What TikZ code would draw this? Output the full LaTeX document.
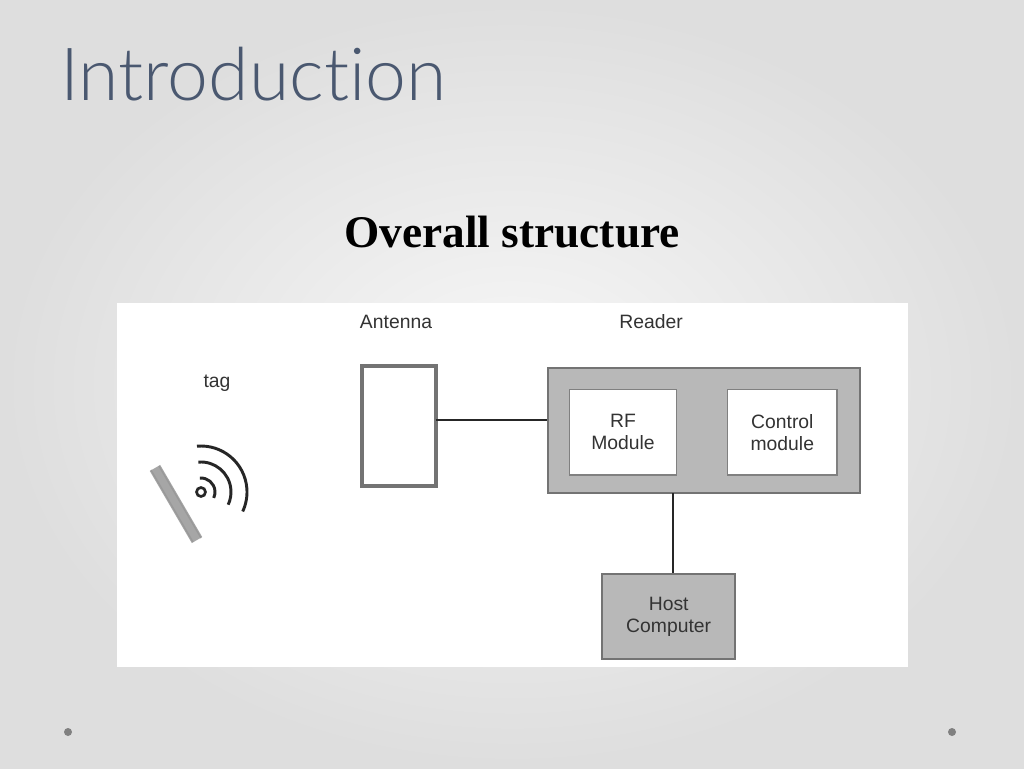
\documentclass[tikz,border=0pt]{standalone}
\usepackage{fontspec}
\setmainfont{Liberation Sans}
\newfontfamily\titlefont[Ligatures={NoCommon}]{Lato Light}
\newfontfamily\serifb{Liberation Serif}
\definecolor{titleblue}{HTML}{4A5870}
\begin{document}
\begin{tikzpicture}[x=0.75pt,y=-0.75pt,
  lbl/.style={font=\fontsize{14.5}{16.5}\selectfont,text=black!80,align=center},
  gbox/.style={draw=black!55,line width=1.5pt,fill=black!28},
  wbox/.style={draw=black!50,line width=1pt,fill=white},
  conn/.style={line width=1.6pt,black!85}]
\shade[inner color=black!3,outer color=black!13] (0,0) rectangle (1024,768);
\useasboundingbox (0,0) rectangle (1024,768);
\node[anchor=base west,inner sep=0,text=titleblue,font=\titlefont\fontsize{55}{60}\selectfont] (title) at (60,100) {Introduction};
\node[inner sep=0,font=\serifb\bfseries\fontsize{34}{38}\selectfont] (sub) at (512,232) {Overall structure};
\fill[white] (117,303) rectangle (908,667);
\node[draw=black!55,line width=3pt,minimum width=55.5pt,minimum height=90pt,anchor=north west,inner sep=0] (ant) at (360,364) {};
\coordinate (antR) at (436,420);
\node[gbox,minimum width=234pt,minimum height=94pt,anchor=north west,inner sep=0] (reader) at (547,367) {};
\node[wbox,lbl,minimum width=80pt,minimum height=64pt,anchor=north west,inner sep=0] (rf) at (569,389) {RF\\Module};
\node[wbox,lbl,minimum width=82pt,minimum height=64pt,anchor=north west,inner sep=0] (ctl) at (727,389) {Control\\module};
\node[gbox,lbl,minimum width=100pt,minimum height=64pt,anchor=north west,inner sep=0] (host) at (601,573) {Host\\Computer};
\draw[conn] (antR) -- (reader.west |- antR);
\draw[conn] (673,493) -- (host.north -| 673,0);
\node[lbl] (la) at (396,322) {Antenna};
\node[lbl] (lr) at (651,322) {Reader};
\node[lbl] (lt) at (217,383) {tag};
% tag
\draw[line width=9pt,black!35] (155,468) -- (197,540);
\draw[line width=1pt,black!40] (151,470) -- (193,542) (159,466) -- (201,538);
\draw[line width=2pt,black!85] (201,492) circle (4.5);
\begin{scope}[line width=2.2pt,black!85]
\draw ([shift={(-95:14)}]201,492) arc[start angle=-95,end angle=25,radius=14];
\draw ([shift={(-95:30)}]201,492) arc[start angle=-95,end angle=25,radius=30];
\draw ([shift={(-95:46)}]201,492) arc[start angle=-95,end angle=25,radius=46];
\end{scope}
\fill[black!50] (68,732) circle (4);
\fill[black!50] (952,732) circle (4);
\end{tikzpicture}
\end{document}
